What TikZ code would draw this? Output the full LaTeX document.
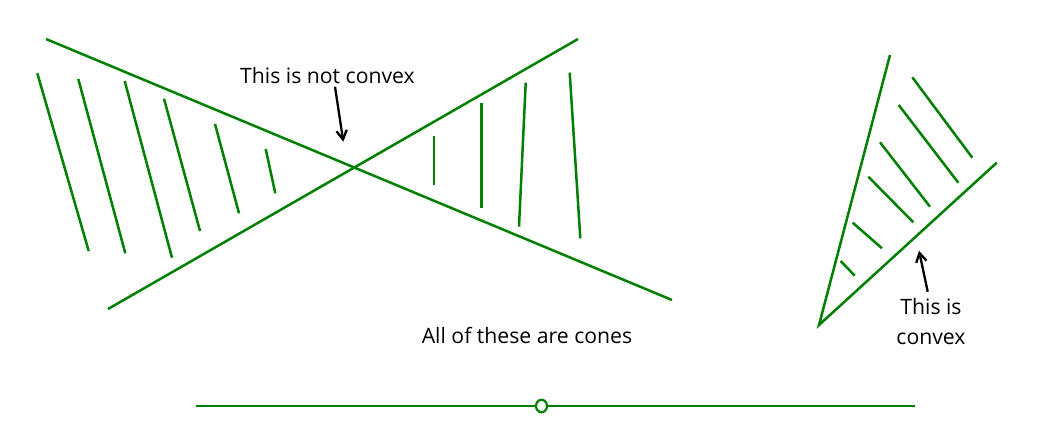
\documentclass[tikz,border=0pt]{standalone}
\usepackage{fontspec}
\setmainfont{Open Sans}
\usetikzlibrary{arrows.meta,shapes.geometric}
\definecolor{cgreen}{RGB}{0,128,0}
\begin{document}
\begin{tikzpicture}[x=1pt,y=-1pt,
  edge/.style={cgreen,line width=2.5pt},
  hatch/.style={cgreen,line width=2.5pt},
  pointer/.style={black,line width=2.3pt,-{Straight Barb[length=9pt,width=17pt,angle'=60]}},
  lbl/.style={font=\fontsize{21.2}{30}\selectfont,text=black,inner sep=0pt,align=center}]
\useasboundingbox (0,0) rectangle (1062,442);
% left double cone
\coordinate (a1) at (46,39);
\coordinate (a2) at (672,300);
\coordinate (b1) at (108,309);
\coordinate (b2) at (578,39);
\draw[edge] (a1) -- (a2);
\draw[edge] (b1) -- (b2);
% left hatching
\draw[hatch] (37.3,73.3) -- (88.7,251);
\draw[hatch] (78.3,79) -- (125.3,253.3);
\draw[hatch] (124.7,81) -- (172,257.7);
\draw[hatch] (164,98.7) -- (200,231);
\draw[hatch] (215,124) -- (239,213.3);
\draw[hatch] (265.7,149) -- (275.3,193.3);
% right hatching
\draw[hatch] (434,136) -- (434,184.7);
\draw[hatch] (481.7,103) -- (481.7,207.7);
\draw[hatch] (525.7,82.7) -- (519,226.7);
\draw[hatch] (569.7,72.7) -- (580.3,238.3);
% label not convex
\node[lbl] (nc) at (327.5,76) {This is not convex};
\coordinate (nct) at (343.3,141.7);
\draw[pointer] (335,86.7) -- (nct);
% right cone
\coordinate (apex) at (819,325);
\coordinate (c1) at (890,55);
\coordinate (c2) at (996.7,162.7);
\draw[edge] (c1) -- (apex) -- (c2);
\draw[hatch] (912.3,77.3) -- (972.3,157.7);
\draw[hatch] (898.7,105) -- (958.3,182.7);
\draw[hatch] (880,142.3) -- (930,206.7);
\draw[hatch] (868.3,176.7) -- (913.3,222.3);
\draw[hatch] (852.7,222.7) -- (882,248.3);
\draw[hatch] (840.7,261) -- (854.7,275.7);
\node[lbl] (cv) at (931,322) {This is\\convex};
\coordinate (cvt) at (919,250.7);
\draw[pointer] (927.7,291.7) -- (cvt);
% caption
\node[lbl] (cap) at (527,335) {All of these are cones};
% bottom line
\coordinate (l1) at (196,406);
\coordinate (l2) at (915,406);
\node[draw=cgreen,line width=2.2pt,fill=white,ellipse,minimum width=11pt,minimum height=12.5pt,inner sep=0pt] (o) at (541.5,406) {};
\draw[cgreen,line width=2.6pt] (l1) -- (o.west);
\draw[cgreen,line width=2.6pt] (o.east) -- (l2);
\end{tikzpicture}
\end{document}
